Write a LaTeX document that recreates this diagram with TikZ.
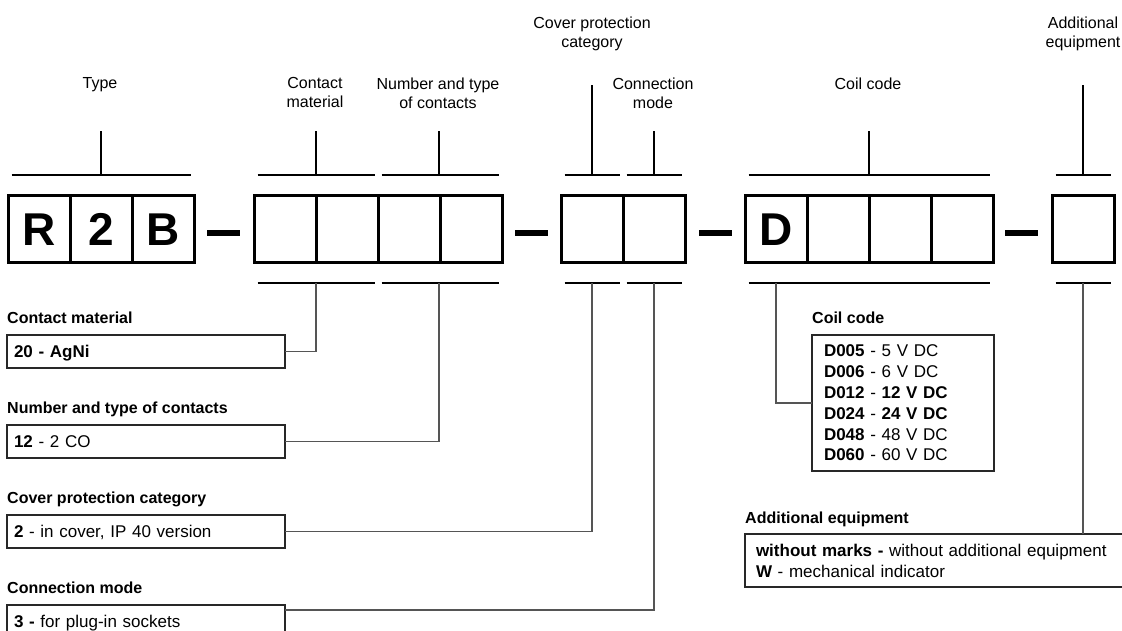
\documentclass[tikz,border=0pt]{standalone}
\usepackage{fontspec}
\setmainfont{Liberation Sans}
\usetikzlibrary{calc}
\definecolor{connc}{RGB}{85,85,85}
\definecolor{boxc}{RGB}{40,40,40}
\begin{document}
\begin{tikzpicture}[x=1pt,y=-1pt,
  cell/.style={draw, line width=3pt, minimum width=62pt, minimum height=67pt, inner sep=0pt, outer sep=0pt, font=\fontsize{46}{46}\selectfont\bfseries},
  dashbar/.style={line width=6pt},
  brk/.style={line width=2.5pt},
  stem/.style={line width=2pt},
  conn/.style={draw=connc, line width=1.3pt},
  toplbl/.style={anchor=north, align=center, inner sep=0pt, font=\fontsize{16}{19}\selectfont},
  sublbl/.style={anchor=west, inner sep=0pt, text height=11.5pt, text depth=0pt, font=\fontsize{16}{19}\selectfont\bfseries},
  optbox/.style={draw=boxc, line width=1.3pt, anchor=north west, outer sep=0pt, minimum height=33pt, inner xsep=7pt, inner ysep=0pt, text width=264pt, align=left, text height=12.2pt, text depth=0pt, font=\fontsize{17}{21}\selectfont},
  listbox/.style={draw=boxc, line width=1.3pt, anchor=north west, outer sep=0pt, inner ysep=0pt, align=left},
]
\useasboundingbox (0,0) rectangle (1122,631);
\clip (0,0) rectangle (1122,631);

% ---- code cells ----
\node[cell] (c11) at (39,229.5) {R};
\node[cell] (c12) at (101,229.5) {2};
\node[cell] (c13) at (163,229.5) {B};
\node[cell] (c21) at (285,229.5) {};
\node[cell] (c22) at (347,229.5) {};
\node[cell] (c23) at (409,229.5) {};
\node[cell] (c24) at (471,229.5) {};
\node[cell] (c31) at (592,229.5) {};
\node[cell] (c32) at (654,229.5) {};
\node[cell] (c41) at (776,229.5) {D};
\node[cell] (c42) at (838,229.5) {};
\node[cell] (c43) at (900,229.5) {};
\node[cell] (c44) at (962,229.5) {};
\node[cell] (c51) at (1083,229.5) {};

% ---- dashes ----
\draw[dashbar] (207,233) -- (240,233);
\draw[dashbar] (515,233) -- (548,233);
\draw[dashbar] (699,233) -- (732,233);
\draw[dashbar] (1005,233) -- (1038,233);

% ---- top brackets ----
\draw[brk] ([xshift=3.5pt,yshift=21pt]c11.north west) -- ([xshift=-3.5pt,yshift=21pt]c13.north east);
\draw[brk] ([xshift=3.5pt,yshift=21pt]c21.north west) -- ([xshift=-3.5pt,yshift=21pt]c22.north east);
\draw[brk] ([xshift=3.5pt,yshift=21pt]c23.north west) -- ([xshift=-3.5pt,yshift=21pt]c24.north east);
\draw[brk] ([xshift=3.5pt,yshift=21pt]c31.north west) -- ([xshift=-3.5pt,yshift=21pt]c31.north east);
\draw[brk] ([xshift=3.5pt,yshift=21pt]c32.north west) -- ([xshift=-3.5pt,yshift=21pt]c32.north east);
\draw[brk] ([xshift=3.5pt,yshift=21pt]c41.north west) -- ([xshift=-3.5pt,yshift=21pt]c44.north east);
\draw[brk] ([xshift=3.5pt,yshift=21pt]c51.north west) -- ([xshift=-3.5pt,yshift=21pt]c51.north east);

% ---- bottom brackets ----
\draw[brk] ([xshift=3.5pt,yshift=-20pt]c21.south west) -- ([xshift=-3.5pt,yshift=-20pt]c22.south east);
\draw[brk] ([xshift=3.5pt,yshift=-20pt]c23.south west) -- ([xshift=-3.5pt,yshift=-20pt]c24.south east);
\draw[brk] ([xshift=3.5pt,yshift=-20pt]c31.south west) -- ([xshift=-3.5pt,yshift=-20pt]c31.south east);
\draw[brk] ([xshift=3.5pt,yshift=-20pt]c32.south west) -- ([xshift=-3.5pt,yshift=-20pt]c32.south east);
\draw[brk] ([xshift=3.5pt,yshift=-20pt]c41.south west) -- ([xshift=-3.5pt,yshift=-20pt]c44.south east);
\draw[brk] ([xshift=3.5pt,yshift=-20pt]c51.south west) -- ([xshift=-3.5pt,yshift=-20pt]c51.south east);

% ---- top bracket stems and labels ----
\coordinate (tType) at (101,175);  \coordinate (uType) at (101,131);
\coordinate (tCM) at (316,175);    \coordinate (uCM) at (316,131);
\coordinate (tNC) at (439,175);    \coordinate (uNC) at (439,131);
\coordinate (tCP) at (592,175);    \coordinate (uCP) at (592,85);
\coordinate (tCon) at (654,175);   \coordinate (uCon) at (654,131);
\coordinate (tCoil) at (869,175);  \coordinate (uCoil) at (869,131);
\coordinate (tAdd) at (1083,175);  \coordinate (uAdd) at (1083,85);
\foreach \a/\b in {tType/uType,tCM/uCM,tNC/uNC,tCP/uCP,tCon/uCon,tCoil/uCoil,tAdd/uAdd}
  \draw[stem] (\a) -- (\b);

\node[toplbl] (lType) at (100,77.3) {Type};
\node[toplbl] (lCM) at (315,77.3) {Contact\\material};
\node[toplbl] (lNC) at (438,77.3) {Number and type\\of contacts};
\node[toplbl] (lCP) at (592,16.3) {Cover protection\\category};
\node[toplbl] (lCon) at (653,77.3) {Connection\\mode};
\node[toplbl] (lCoil) at (868,77.3) {Coil code};
\node[toplbl] (lAdd) at (1083,16.3) {Additional\\equipment};

% ---- option boxes (left) ----
\node[sublbl] (hCM) at (7,318) {Contact material};
\node[optbox] (bCM) at (7,335) {\textbf{20 - AgNi}};
\node[sublbl] (hNC) at (7,408) {Number and type of contacts};
\node[optbox] (bNC) at (7,425) {\textbf{12} - 2 CO};
\node[sublbl] (hCP) at (7,498) {Cover protection category};
\node[optbox] (bCP) at (7,515) {\textbf{2} - in cover, IP 40 version};
\node[sublbl] (hCon) at (7,588) {Connection mode};
\node[optbox] (bCon) at (7,605) {\textbf{3 -} for plug-in sockets};

% ---- coil code box ----
\node[sublbl] (hCoil) at (812,318) {Coil code};
\node[listbox, minimum width=182pt, minimum height=136pt, inner xsep=12pt, text width=158pt, font=\fontsize{17}{20.8}\selectfont] (bCoil) at (812,335)
  {\textbf{D005} - 5 V DC\\\textbf{D006} - 6 V DC\\\textbf{D012} - \textbf{12 V DC}\\\textbf{D024} - \textbf{24 V DC}\\\textbf{D048} - 48 V DC\\\textbf{D060} - 60 V DC};

% ---- additional equipment box ----
\node[sublbl] (hAdd) at (745,518) {Additional equipment};
\node[listbox, minimum width=400pt, minimum height=53pt, inner xsep=11pt, text width=378pt, font=\fontsize{17}{21}\selectfont] (bAdd) at (745,534)
  {\textbf{without marks -} without additional equipment\\\textbf{W} - mechanical indicator};

% ---- connectors ----
\coordinate (dCM) at (316,283);
\coordinate (dNC) at (439,283);
\coordinate (dCP) at (592,283);
\coordinate (dCon) at (654,283);
\coordinate (dCoil) at (776,283);
\coordinate (dAdd) at (1083,283);
\draw[conn] (dCM) |- (bCM.east);
\draw[conn] (dNC) |- (bNC.east);
\draw[conn] (dCP) |- (bCP.east);
\draw[conn] (dCon) |- ([yshift=-5pt]bCon.north east);
\draw[conn] (dCoil) |- (bCoil.west);
\draw[conn] (dAdd) -- (dAdd |- bAdd.north);
\end{tikzpicture}
\end{document}
